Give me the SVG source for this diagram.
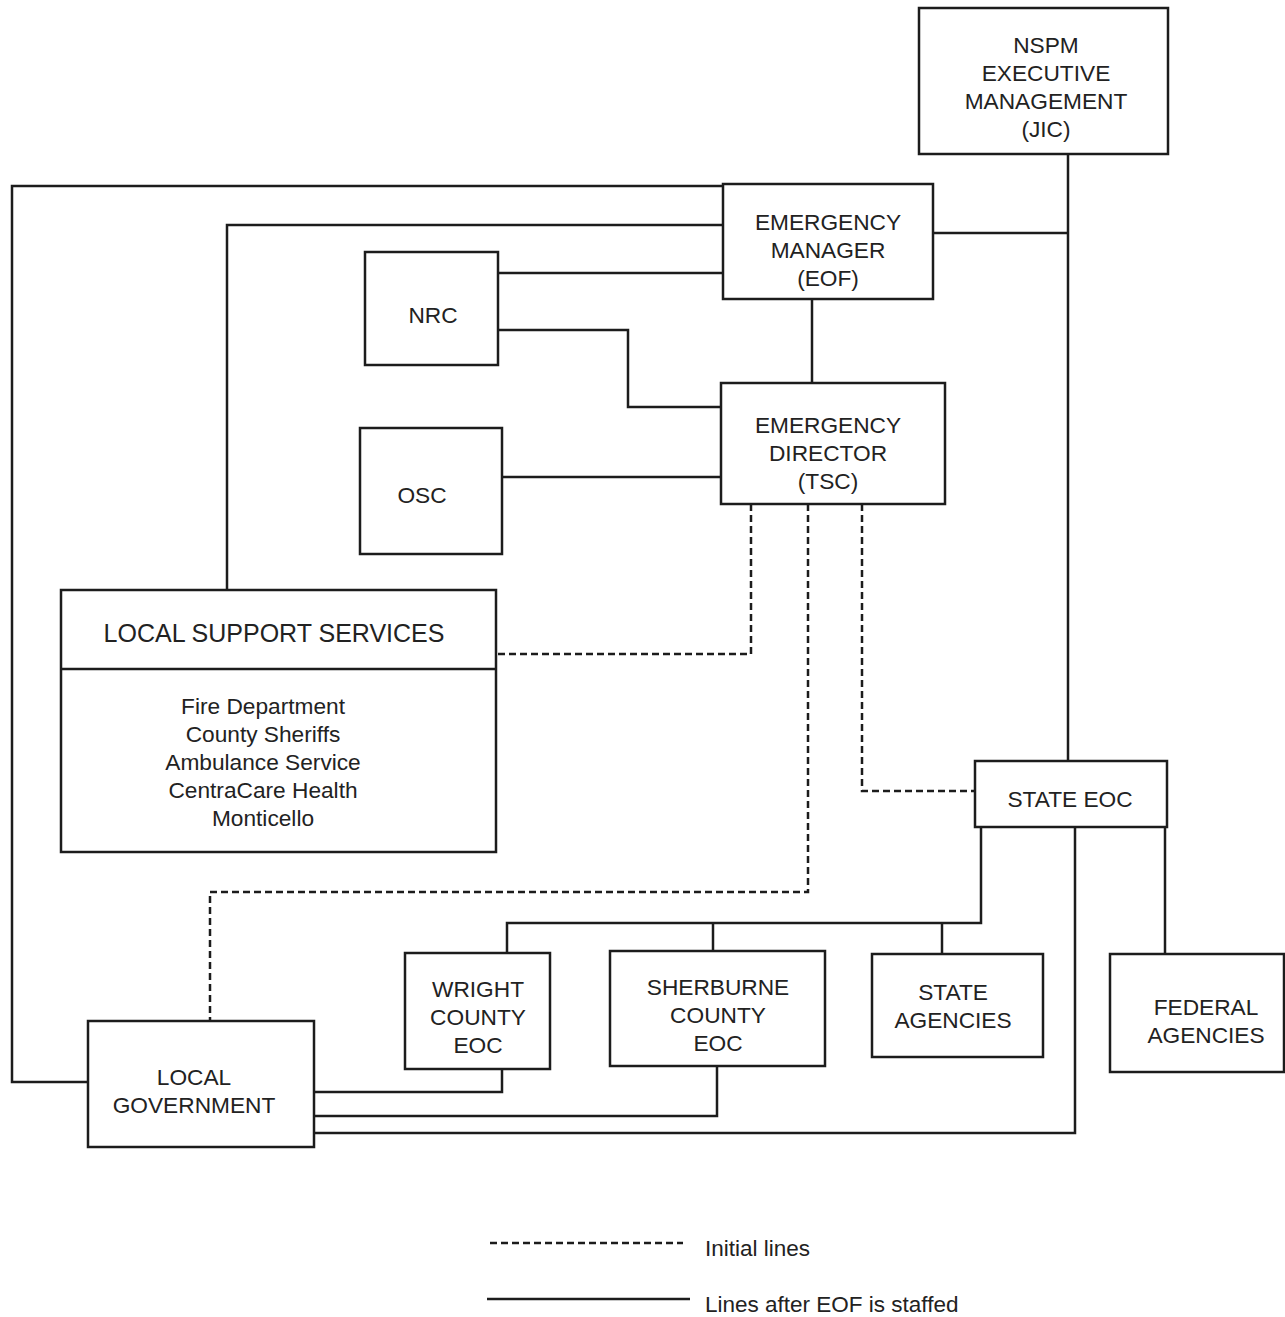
<svg xmlns="http://www.w3.org/2000/svg" width="1285" height="1317" viewBox="0 0 1285 1317">
<style>
.box{fill:#fff;stroke:#1c1c1c;stroke-width:2.5}
.ln{fill:none;stroke:#1c1c1c;stroke-width:2.5}
.dash{stroke-dasharray:7 4}
.t{font-family:"Liberation Sans",Arial,sans-serif;font-size:22.7px;fill:#222;text-anchor:middle}
.title{font-size:25px}
.lg{font-family:"Liberation Sans",Arial,sans-serif;font-size:22.5px;fill:#222}
</style>
<rect width="1285" height="1317" fill="#fff"/>
<g id="connectors">
<path class="ln" d="M723,186 H12 V1082 H88"/>
<path class="ln" d="M723,225 H227 V590"/>
<path class="ln" d="M498,273 H723"/>
<path class="ln" d="M498,330 H628 V407 H721"/>
<path class="ln" d="M502,477 H721"/>
<path class="ln" d="M812,299 V383"/>
<path class="ln" d="M933,233 H1068"/>
<path class="ln" d="M1068,154 V761"/>
<path class="ln dash" d="M751,504 V654 H496"/>
<path class="ln dash" d="M808,504 V892 H210 V1021"/>
<path class="ln dash" d="M862,504 V791 H975"/>
<path class="ln" d="M981,827 V923 H507 V953"/>
<path class="ln" d="M713,923 V951"/>
<path class="ln" d="M942,923 V954"/>
<path class="ln" d="M1165,827 V954"/>
<path class="ln" d="M1075,827 V1133 H314"/>
<path class="ln" d="M502,1069 V1092 H314"/>
<path class="ln" d="M717,1066 V1116 H314"/>
</g>
<g id="nspm">
<rect class="box" x="919" y="8" width="249" height="146"/>
<text class="t" x="1046" y="53">NSPM</text>
<text class="t" x="1046" y="81">EXECUTIVE</text>
<text class="t" x="1046" y="109">MANAGEMENT</text>
<text class="t" x="1046" y="137">(JIC)</text>
</g>
<g id="emergency-manager">
<rect class="box" x="723" y="184" width="210" height="115"/>
<text class="t" x="828" y="230">EMERGENCY</text>
<text class="t" x="828" y="258">MANAGER</text>
<text class="t" x="828" y="286">(EOF)</text>
</g>
<g id="nrc">
<rect class="box" x="365" y="252" width="133" height="113"/>
<text class="t" x="433" y="323">NRC</text>
</g>
<g id="emergency-director">
<rect class="box" x="721" y="383" width="224" height="121"/>
<text class="t" x="828" y="433">EMERGENCY</text>
<text class="t" x="828" y="461">DIRECTOR</text>
<text class="t" x="828" y="489">(TSC)</text>
</g>
<g id="osc">
<rect class="box" x="360" y="428" width="142" height="126"/>
<text class="t" x="422" y="503">OSC</text>
</g>
<g id="local-support-services">
<rect class="box" x="61" y="590" width="435" height="262"/>
<path class="ln" d="M61,669 H496"/>
<text class="t title" x="274" y="642">LOCAL SUPPORT SERVICES</text>
<text class="t" x="263" y="714">Fire Department</text>
<text class="t" x="263" y="742">County Sheriffs</text>
<text class="t" x="263" y="770">Ambulance Service</text>
<text class="t" x="263" y="798">CentraCare Health</text>
<text class="t" x="263" y="826">Monticello</text>
</g>
<g id="state-eoc">
<rect class="box" x="975" y="761" width="192" height="66"/>
<text class="t" x="1070" y="807">STATE EOC</text>
</g>
<g id="wright-county-eoc">
<rect class="box" x="405" y="953" width="145" height="116"/>
<text class="t" x="478" y="997">WRIGHT</text>
<text class="t" x="478" y="1025">COUNTY</text>
<text class="t" x="478" y="1053">EOC</text>
</g>
<g id="sherburne-county-eoc">
<rect class="box" x="610" y="951" width="215" height="115"/>
<text class="t" x="718" y="995">SHERBURNE</text>
<text class="t" x="718" y="1023">COUNTY</text>
<text class="t" x="718" y="1051">EOC</text>
</g>
<g id="state-agencies">
<rect class="box" x="872" y="954" width="171" height="103"/>
<text class="t" x="953" y="1000">STATE</text>
<text class="t" x="953" y="1028">AGENCIES</text>
</g>
<g id="federal-agencies">
<rect class="box" x="1110" y="954" width="174" height="118"/>
<text class="t" x="1206" y="1015">FEDERAL</text>
<text class="t" x="1206" y="1043">AGENCIES</text>
</g>
<g id="local-government">
<rect class="box" x="88" y="1021" width="226" height="126"/>
<text class="t" x="194" y="1085">LOCAL</text>
<text class="t" x="194" y="1113">GOVERNMENT</text>
</g>
<g id="legend">
<path class="ln dash" d="M490,1243 H683"/>
<text class="lg" x="705" y="1256">Initial lines</text>
<path class="ln" d="M487,1299 H690"/>
<text class="lg" x="705" y="1312">Lines after EOF is staffed</text>
</g>
</svg>
